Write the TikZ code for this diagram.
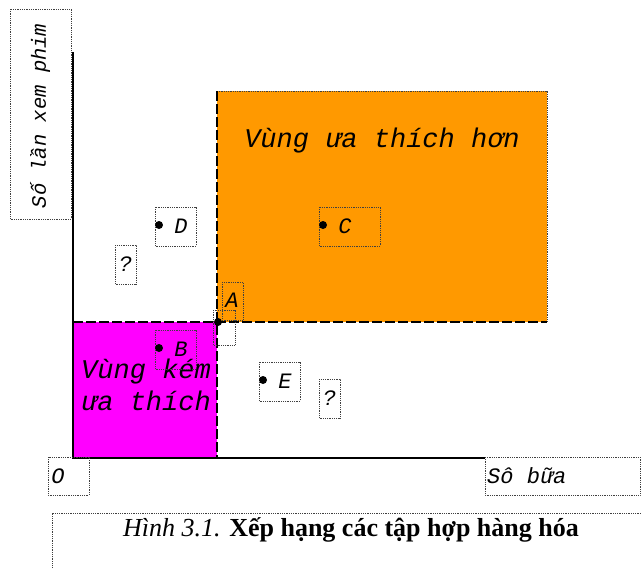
\documentclass[tikz,border=0pt]{standalone}
\usepackage{fontspec}
\setmainfont{Liberation Serif}
\newfontfamily\cour{Liberation Mono}
\definecolor{cam}{HTML}{FF9900}
\definecolor{hong}{HTML}{FF00FF}

\begin{document}
\begin{tikzpicture}[x=1pt, y=-1pt,
    khung/.style={draw=black!75, densely dotted, line width=0.8pt},
    nhan/.style={font=\cour\itshape\fontsize{22}{22}\selectfont, inner sep=0pt},
    vung/.style={font=\cour\itshape\fontsize{27}{32}\selectfont, inner sep=0pt, align=center},
    gach/.style={line width=1.6pt, dash pattern=on 10pt off 3pt}]
    \useasboundingbox (0,0) rectangle (641,568);

    % hai vung
    \fill[cam] (217,91) rectangle (547,322);
    \fill[hong] (73,322) rectangle (217,458);
    \draw[khung] (217,91) -- (547,91) -- (547,322);
    \draw[khung] (73,458) -- (217,458);

    % truc
    \draw[line width=1.6pt] (73,52) -- (73,458) -- (485,458);
    \draw[gach] (217,91) -- (217,458);
    \draw[gach] (73,322) -- (547,322);

    \node[vung] (hon) at (382,141) {Vùng ưa thích hơn};
    \node[vung] (kem) at (146,385) {Vùng kém\\ưa thích};

    % cac diem
    \coordinate (A) at (218,322);
    \fill (A) circle (4);
    \draw[khung] (222,282) rectangle (243,320);
    \draw[khung] (213,310) rectangle (235,345);
    \node[nhan] (nA) at (232,300) {A};
    \foreach \ten/\x/\y/\w in {D/155/207/41, C/319/207/61, B/155/330/41, E/259/362/41} {
        \draw[khung] (\x,\y) rectangle +(\w,39);
        \fill (\x+4,\y+18) circle (4);
        \node[nhan] (\ten) at (\x+26,\y+19) {\ten};
    }
    \draw[khung] (115,245) rectangle (136,284);
    \node[nhan] (h1) at (125.5,264) {?};
    \draw[khung] (319,379) rectangle (340,418);
    \node[nhan] (h2) at (329.5,398) {?};

    % nhan truc
    \draw[khung] (10,9) rectangle (71,219);
    \node[nhan, font=\cour\itshape\fontsize{20.5}{20}\selectfont, rotate=90] (truc y) at (40,116) {Số lần xem phim};
    \draw[khung] (48,457) rectangle (89,495);
    \node[nhan] (O) at (58,476) {O};
    \draw[khung] (485,457) rectangle (640,495);
    \node[nhan] (truc x) [anchor=west] at (487,476) {Sô bữa};

    % chu thich
    \draw[khung] (641,513) -- (52,513) -- (52,568);
    \node[font=\fontsize{26}{26}\selectfont] (hinh) at (351,530)
        {\textit{Hình 3.1.} \textbf{Xếp hạng các tập hợp hàng hóa}};
\end{tikzpicture}
\end{document}
